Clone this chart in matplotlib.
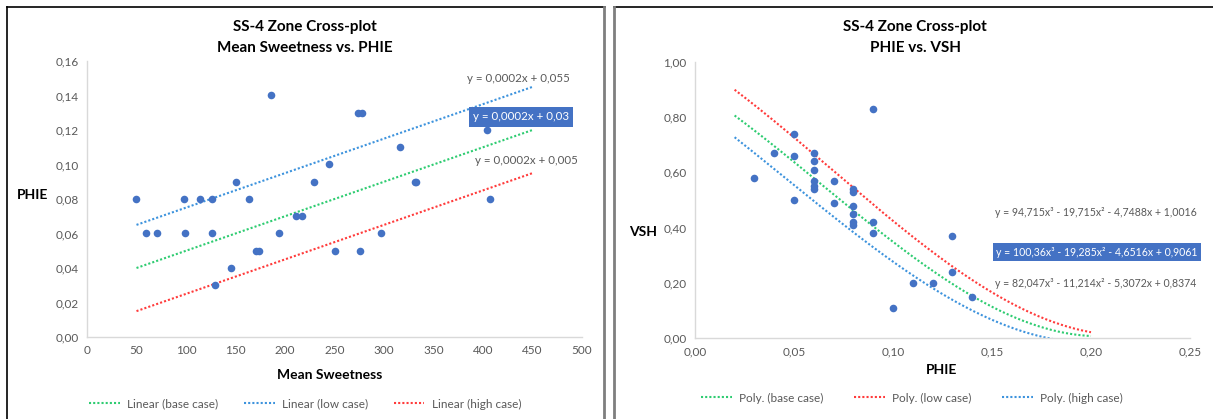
import matplotlib
matplotlib.use("Agg")
import matplotlib.pyplot as plt
import numpy as np
from matplotlib.lines import Line2D
from matplotlib.ticker import FuncFormatter, MultipleLocator

plt.rcParams['font.family'] = ['Lato', 'DejaVu Sans']

# left chart: Mean Sweetness vs PHIE
sweet = [49, 60, 71, 98, 99, 114, 126, 126, 129, 145, 150, 164, 171, 174, 186,
         194, 211, 217, 229, 244, 250, 274, 278, 276, 297, 316, 331, 332, 404, 407]
phie_l = [0.08, 0.06, 0.06, 0.08, 0.06, 0.08, 0.08, 0.06, 0.03, 0.04, 0.09, 0.08, 0.05, 0.05, 0.14,
          0.06, 0.07, 0.07, 0.09, 0.10, 0.05, 0.13, 0.13, 0.05, 0.06, 0.11, 0.09, 0.09, 0.12, 0.08]
lin_slope = 0.0002
lin_base, lin_low, lin_high = 0.03, 0.055, 0.005
lin_x = [50, 450]

# right chart: PHIE vs VSH
phie_r = [0.03, 0.04, 0.05, 0.05, 0.05, 0.06, 0.06, 0.06, 0.06, 0.06, 0.06, 0.07, 0.07, 0.08,
          0.08, 0.08, 0.08, 0.08, 0.08, 0.09, 0.09, 0.09, 0.10, 0.11, 0.12, 0.13, 0.13, 0.14]
vsh = [0.58, 0.67, 0.74, 0.66, 0.50, 0.67, 0.64, 0.61, 0.57, 0.55, 0.54, 0.57, 0.49, 0.54,
       0.53, 0.48, 0.45, 0.42, 0.41, 0.83, 0.42, 0.38, 0.11, 0.20, 0.20, 0.37, 0.24, 0.15]
poly_base = [100.36, -19.285, -4.6516, 0.9061]
poly_low = [94.715, -19.715, -4.7488, 1.0016]
poly_high = [82.047, -11.214, -5.3072, 0.8374]
poly_range = [0.02, 0.20]

W, H = 1213, 419
fig = plt.figure(figsize=(W / 100, H / 100), dpi=100)

pt_col = '#4472C4'
green, blue, red = '#2ECC71', '#3D93DD', '#FF3B3B'
txt = '#595959'
dot = dict(ls=(0, (1, 1)), lw=1.5)


def comma(fmt):
    return FuncFormatter(lambda v, p: (fmt % v).replace('.', ','))


def style(ax):
    for s in ['top', 'right']:
        ax.spines[s].set_visible(False)
    for s in ['left', 'bottom']:
        ax.spines[s].set_color('#D9D9D9')
        ax.spines[s].set_linewidth(1.0)
    ax.tick_params(length=0, labelsize=8.5, labelcolor=txt, pad=6)


def px(x, y):
    return x / W, 1 - y / H


# ---- left
ax1 = fig.add_axes([87 / W, 1 - 337 / H, 495 / W, 276 / H])
style(ax1)
ax1.scatter(sweet, phie_l, s=30, color=pt_col, zorder=3, linewidths=0)
xs = np.array(lin_x)
ax1.plot(xs, lin_slope * xs + lin_base, color=green, label='Linear (base case)', **dot)
ax1.plot(xs, lin_slope * xs + lin_low, color=blue, label='Linear (low case)', **dot)
ax1.plot(xs, lin_slope * xs + lin_high, color=red, label='Linear (high case)', **dot)
ax1.set_xlim(0, 500)
ax1.set_ylim(0, 0.16)
ax1.xaxis.set_major_locator(MultipleLocator(50))
ax1.yaxis.set_major_locator(MultipleLocator(0.02))
ax1.yaxis.set_major_formatter(comma('%.2f'))
ax1.xaxis.set_major_formatter(FuncFormatter(lambda v, p: '%d' % v))

fig.text(*px(305, 27), 'SS-4 Zone Cross-plot', ha='center', va='center', fontsize=11, fontweight='bold')
fig.text(*px(305, 48), 'Mean Sweetness vs. PHIE', ha='center', va='center', fontsize=11, fontweight='bold')
fig.text(*px(33, 195), 'PHIE', ha='center', va='center', fontsize=10, fontweight='bold')
fig.text(*px(330, 375), 'Mean Sweetness', ha='center', va='center', fontsize=10, fontweight='bold')

fig.text(*px(518, 78), 'y = 0,0002x + 0,055', ha='center', va='center', fontsize=8.3, color=txt)
fig.text(*px(521, 117), 'y = 0,0002x + 0,03', ha='center', va='center', fontsize=8.3, color='white',
         bbox=dict(boxstyle='square,pad=0.35', fc=pt_col, ec='none'))
fig.text(*px(526, 160), 'y = 0,0002x + 0,005', ha='center', va='center', fontsize=8.3, color=txt)

fig.legend(handles=ax1.get_lines(), loc='center', bbox_to_anchor=(px(305, 404)), ncol=3,
           frameon=False, fontsize=8.5, labelcolor=txt, handlelength=2.6, columnspacing=2.2,
           handletextpad=0.6)

# ---- right
ax2 = fig.add_axes([695 / W, 1 - 338 / H, 495 / W, 276 / H])
style(ax2)
ax2.scatter(phie_r, vsh, s=30, color=pt_col, zorder=3, linewidths=0)
xp = np.linspace(poly_range[0], poly_range[1], 200)
ax2.plot(xp, np.polyval(poly_base, xp), color=green, label='Poly. (base case)', **dot)
ax2.plot(xp, np.polyval(poly_low, xp), color=red, label='Poly. (low case)', **dot)
ax2.plot(xp, np.polyval(poly_high, xp), color=blue, label='Poly. (high case)', **dot)
ax2.set_xlim(0, 0.25)
ax2.set_ylim(0, 1.0)
ax2.xaxis.set_major_locator(MultipleLocator(0.05))
ax2.yaxis.set_major_locator(MultipleLocator(0.2))
ax2.yaxis.set_major_formatter(comma('%.2f'))
ax2.xaxis.set_major_formatter(comma('%.2f'))

fig.text(*px(915, 27), 'SS-4 Zone Cross-plot', ha='center', va='center', fontsize=11, fontweight='bold')
fig.text(*px(915, 48), 'PHIE vs. VSH', ha='center', va='center', fontsize=11, fontweight='bold')
fig.text(*px(643, 232), 'VSH', ha='center', va='center', fontsize=10, fontweight='bold')
fig.text(*px(942, 370), 'PHIE', ha='center', va='center', fontsize=10, fontweight='bold')

fig.text(*px(1096, 212), 'y = 94,715x³ - 19,715x² - 4,7488x + 1,0016', ha='center', va='center',
         fontsize=7.6, color=txt)
fig.text(*px(1097, 252), 'y = 100,36x³ - 19,285x² - 4,6516x + 0,9061', ha='center', va='center',
         fontsize=7.6, color='white', bbox=dict(boxstyle='square,pad=0.35', fc=pt_col, ec='none'))
fig.text(*px(1096, 283), 'y = 82,047x³ - 11,214x² - 5,3072x + 0,8374', ha='center', va='center',
         fontsize=7.6, color=txt)

fig.legend(handles=ax2.get_lines(), loc='center', bbox_to_anchor=(px(912, 398)), ncol=3,
           frameon=False, fontsize=8.5, labelcolor=txt, handlelength=2.6, columnspacing=2.6,
           handletextpad=0.6)

# ---- panel frames
def fline(x0, y0, x1, y1, c, lw):
    fig.add_artist(Line2D([x0 / W, x1 / W], [1 - y0 / H, 1 - y1 / H], color=c, lw=lw))

fline(7, 7, 605, 7, 'black', 1.2)
fline(7, 7, 7, 419, 'black', 1.2)
fline(604, 7, 604, 419, '#7F7F7F', 2.0)
fline(614, 7, 1213, 7, 'black', 1.2)
fline(614, 7, 614, 419, '#7F7F7F', 2.0)

fig.savefig('out.png', dpi=100)
